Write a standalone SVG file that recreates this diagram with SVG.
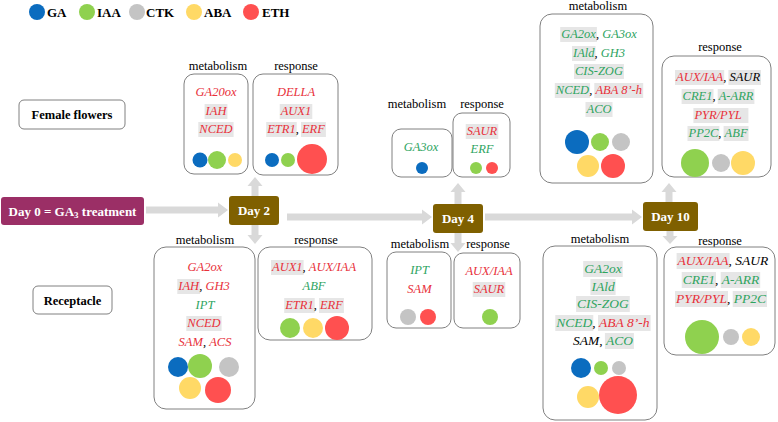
<svg xmlns="http://www.w3.org/2000/svg" width="778" height="422" viewBox="0 0 778 422" font-family="'Liberation Serif', 'DejaVu Serif', serif">
<style>
svg, text, tspan { font-family: 'Liberation Serif', 'DejaVu Serif', 'Times New Roman', serif; }
.lbl{font-size:12.5px;fill:#000;text-anchor:middle;}
.g{font-size:12.5px;font-style:italic;}
.g2{font-size:13.5px;font-style:italic;}
.r{fill:#e8303a;}
.gr{fill:#2ea45f;}
.k{fill:#000;font-style:normal;}
.bk{fill:#000;}
.hl{fill:#e6e6e6;}
.box{fill:#fff;stroke:#808080;stroke-width:1;}
.day{fill:#7f6000;}
.dt{font-size:13px;font-weight:bold;fill:#fff;text-anchor:middle;}
.leg{font-size:13px;font-weight:bold;fill:#000;}
.c1{fill:#0b6cbf;}.c2{fill:#8fd14f;}.c3{fill:#c4c4c4;}.c4{fill:#ffd966;}.c5{fill:#ff5050;}
.arr{fill:#d9d9d9;}
</style>

<g id="legend">
<circle class="c1" cx="37" cy="12" r="8"/><text class="leg" x="47" y="17">GA</text>
<circle class="c2" cx="87" cy="12" r="8"/><text class="leg" x="97" y="17">IAA</text>
<circle class="c3" cx="137" cy="12" r="8"/><text class="leg" x="146" y="17">CTK</text>
<circle class="c4" cx="194" cy="12" r="8"/><text class="leg" x="204" y="17">ABA</text>
<circle class="c5" cx="251" cy="12" r="8"/><text class="leg" x="262" y="17">ETH</text>
</g>

<g id="connectors">
<path class="arr" d="M146,206.5 H218 V202.5 L228,210 L218,217.5 V213.5 H146 Z"/>
<path class="arr" d="M287,213.5 H422 V209.5 L432,217 L422,224.5 V220.5 H287 Z"/>
<path class="arr" d="M485,213.5 H632 V209.5 L642,217 L632,224.5 V220.5 H485 Z"/>
<path class="arr" d="M251.5,196 V186 H247.5 L255,177 L262.5,186 H258.5 V196 Z"/>
<path class="arr" d="M251.5,225 V235 H247.5 L255,244 L262.5,235 H258.5 V225 Z"/>
<path class="arr" d="M454.5,204 V192 H450.5 L458,183 L465.5,192 H461.5 V204 Z"/>
<path class="arr" d="M454.5,233 V243 H450.5 L458,252 L465.5,243 H461.5 V233 Z"/>
<path class="arr" d="M665.5,202 V192 H661.5 L669,183 L676.5,192 H672.5 V202 Z"/>
<path class="arr" d="M666.5,231 V236 H662.5 L670,244 L677.5,236 H673.5 V231 Z"/>
</g>

<g id="female-flowers">
<rect class="box" x="19" y="100" width="106" height="29" rx="5"/>
<text x="72" y="119" font-size="12.5" font-weight="bold" text-anchor="middle" fill="#000">Female flowers</text>
</g>
<g id="receptacle">
<rect class="box" x="33" y="286" width="79" height="28" rx="5"/>
<text x="72.5" y="305" font-size="12.5" font-weight="bold" text-anchor="middle" fill="#000">Receptacle</text>
</g>

<g id="day0">
<rect x="1" y="197" width="143" height="28" rx="3" fill="#9b2f66"/>
<text class="dt" x="72.5" y="215.5">Day 0 = GA<tspan font-size="9" dy="2">3</tspan><tspan dy="-2"> treatment</tspan></text>
</g>
<g id="day2">
<rect class="day" x="229" y="196" width="50" height="29" rx="3"/>
<text class="dt" x="254" y="215">Day 2</text>
</g>
<g id="day4">
<rect class="day" x="433" y="204" width="50" height="29" rx="3"/>
<text class="dt" x="458" y="223">Day 4</text>
</g>
<g id="day10">
<rect class="day" x="643" y="202" width="55" height="29" rx="3"/>
<text class="dt" x="670.5" y="221">Day 10</text>
</g>

<g id="d2-ff-metabolism">
<text class="lbl" x="218" y="70">metabolism</text>
<rect class="box" x="184" y="74" width="64" height="100" rx="10"/>
<rect class="hl" x="204.6" y="104" width="22.8" height="15"/>
<rect class="hl" x="198.3" y="122" width="35.3" height="15"/>
<text class="g r" x="195.5" y="96">GA20ox</text>
<text class="g r" x="205.6" y="115">IAH</text>
<text class="g r" x="199.3" y="133">NCED</text>
<circle class="c1" cx="200" cy="160" r="7.5"/>
<circle class="c2" cx="217" cy="160" r="9"/>
<circle class="c4" cx="235" cy="160" r="7"/>
</g>

<g id="d2-ff-response">
<text class="lbl" x="296" y="70">response</text>
<rect class="box" x="253" y="74" width="85" height="101" rx="10"/>
<rect class="hl" x="279.7" y="104" width="32.6" height="15"/>
<rect class="hl" x="266.2" y="122" width="30.5" height="15"/>
<rect class="hl" x="301" y="122" width="24.9" height="15"/>
<text class="g r" x="276.9" y="96">DELLA</text>
<text class="g r" x="280.7" y="115">AUX1</text>
<text class="g r" x="267.2" y="133">ETR1<tspan class="k">, </tspan>ERF</text>
<circle class="c1" cx="272" cy="160" r="7"/>
<circle class="c2" cx="288" cy="160" r="7"/>
<circle class="c5" cx="312" cy="159" r="15"/>
</g>

<g id="d4-ff-metabolism">
<text class="lbl" x="417" y="108">metabolism</text>
<rect class="box" x="392" y="129" width="60" height="48" rx="9"/>
<text class="g gr" x="421" y="151" text-anchor="middle">GA3ox</text>
<circle class="c1" cx="422" cy="168" r="6"/>
</g>
<g id="d4-ff-response">
<text class="lbl" x="482" y="108">response</text>
<rect class="box" x="453" y="113" width="57" height="64" rx="9"/>
<rect class="hl" x="465.7" y="124" width="32.6" height="15"/>
<text class="g r" x="466.7" y="135">SAUR</text>
<text class="g gr" x="482" y="153" text-anchor="middle">ERF</text>
<circle class="c2" cx="476" cy="168" r="6"/>
<circle class="c5" cx="492" cy="168" r="6"/>
</g>

<g id="d10-ff-metabolism">
<text class="lbl" x="598" y="10">metabolism</text>
<rect class="box" x="540" y="14" width="113" height="169" rx="12"/>
<rect class="hl" x="560.2" y="27" width="36.7" height="15"/>
<rect class="hl" x="572" y="46" width="23.5" height="15"/>
<rect class="hl" x="574" y="64" width="49.9" height="15"/>
<rect class="hl" x="554.8" y="83" width="35.3" height="15"/>
<rect class="hl" x="594.3" y="83" width="48.9" height="15"/>
<rect class="hl" x="585.5" y="102" width="27" height="15"/>
<text class="g gr" x="561.2" y="38">GA2ox<tspan class="k">, </tspan>GA3ox</text>
<text class="g gr" x="573" y="57">IAld<tspan class="k">, </tspan>GH3</text>
<text class="g gr" x="575" y="75">CIS-ZOG</text>
<text class="g gr" x="555.8" y="94">NCED<tspan class="k">, </tspan><tspan class="r">ABA 8’-h</tspan></text>
<text class="g gr" x="586.5" y="113">ACO</text>
<circle class="c1" cx="577" cy="142" r="12"/>
<circle class="c2" cx="600" cy="142" r="9"/>
<circle class="c3" cx="621" cy="142" r="9"/>
<circle class="c4" cx="588" cy="166" r="11"/>
<circle class="c5" cx="613" cy="166" r="12"/>
</g>
<g id="d10-ff-response">
<text class="lbl" x="720" y="51">response</text>
<rect class="box" x="662" y="56" width="109" height="121" rx="12"/>
<rect class="hl" x="675" y="70" width="49.2" height="15"/>
<rect class="hl" x="728.4" y="70" width="32.6" height="15"/>
<rect class="hl" x="681.6" y="89" width="31.9" height="15"/>
<rect class="hl" x="717.7" y="89" width="36.7" height="15"/>
<rect class="hl" x="693.4" y="108" width="55" height="15"/>
<rect class="hl" x="687.5" y="126" width="31.9" height="15"/>
<rect class="hl" x="723.6" y="126" width="24.9" height="15"/>
<text class="g r" x="676" y="81">AUX/IAA<tspan class="k">, </tspan><tspan class="bk">SAUR</tspan></text>
<text class="g gr" x="682.6" y="100">CRE1<tspan class="k">, </tspan>A-ARR</text>
<text class="g r" x="694.4" y="119">PYR/PYL</text>
<text class="g gr" x="688.5" y="137">PP2C<tspan class="k">, </tspan>ABF</text>
<circle class="c2" cx="695" cy="163" r="14"/>
<circle class="c3" cx="721" cy="163" r="9"/>
<circle class="c4" cx="743" cy="163" r="12"/>
</g>

<g id="d2-rc-metabolism">
<text class="lbl" x="205" y="244">metabolism</text>
<rect class="box" x="154" y="247" width="101" height="162" rx="12"/>
<rect class="hl" x="177.3" y="279" width="22.8" height="15"/>
<rect class="hl" x="186.3" y="316" width="35.3" height="15"/>
<text class="g r" x="187.6" y="271">GA2ox</text>
<text class="g r" x="178.3" y="290">IAH<tspan class="k">, </tspan>GH3</text>
<text class="g gr" x="195.6" y="309">IPT</text>
<text class="g r" x="187.3" y="327">NCED</text>
<text class="g r" x="178.6" y="346">SAM<tspan class="k">, </tspan>ACS</text>
<circle class="c1" cx="178" cy="367" r="10"/>
<circle class="c2" cx="200" cy="366" r="12"/>
<circle class="c3" cx="229" cy="367" r="10"/>
<circle class="c4" cx="190" cy="388" r="11"/>
<circle class="c5" cx="218" cy="390" r="13"/>
</g>
<g id="d2-rc-response">
<text class="lbl" x="316" y="244">response</text>
<rect class="box" x="258" y="247" width="114" height="93" rx="12"/>
<rect class="hl" x="271" y="260" width="32.6" height="15"/>
<rect class="hl" x="284.2" y="298" width="30.5" height="15"/>
<rect class="hl" x="319" y="298" width="24.9" height="15"/>
<text class="g r" x="272" y="271">AUX1<tspan class="k">, </tspan>AUX/IAA</text>
<text class="g gr" x="302.5" y="290">ABF</text>
<text class="g r" x="285.2" y="309">ETR1<tspan class="k">, </tspan>ERF</text>
<circle class="c2" cx="290" cy="328" r="10"/>
<circle class="c4" cx="313" cy="328" r="10"/>
<circle class="c5" cx="337" cy="328" r="12"/>
</g>

<g id="d4-rc-metabolism">
<text class="lbl" x="420" y="248">metabolism</text>
<rect class="box" x="387" y="252" width="64" height="76" rx="9"/>
<text class="g gr" x="419.5" y="274" text-anchor="middle">IPT</text>
<text class="g r" x="419.5" y="293" text-anchor="middle">SAM</text>
<circle class="c3" cx="408" cy="317" r="8"/>
<circle class="c5" cx="428" cy="317" r="8"/>
</g>
<g id="d4-rc-response">
<text class="lbl" x="488" y="248">response</text>
<rect class="box" x="454" y="253" width="66" height="75" rx="9"/>
<rect class="hl" x="472.7" y="282" width="32.6" height="15"/>
<text class="g r" x="489" y="275" text-anchor="middle">AUX/IAA</text>
<text class="g r" x="473.7" y="293">SAUR</text>
<circle class="c2" cx="490" cy="317" r="8"/>
</g>

<g id="d10-rc-metabolism">
<text class="lbl" x="600" y="243">metabolism</text>
<rect class="box" x="543" y="246" width="114" height="174" rx="12"/>
<rect class="hl" x="583.2" y="261" width="39.5" height="16"/>
<rect class="hl" x="590.4" y="279" width="25.2" height="16"/>
<rect class="hl" x="576.1" y="296" width="53.7" height="16"/>
<rect class="hl" x="555.3" y="315" width="38" height="16"/>
<rect class="hl" x="598" y="315" width="52.6" height="16"/>
<rect class="hl" x="604.9" y="333" width="29" height="16"/>
<text class="g2 gr" x="584.2" y="273">GA2ox</text>
<text class="g2 gr" x="591.4" y="291">IAld</text>
<text class="g2 gr" x="577.1" y="308">CIS-ZOG</text>
<text class="g2 gr" x="556.3" y="327">NCED<tspan class="k">, </tspan><tspan class="r">ABA 8’-h</tspan></text>
<text class="g2 bk" x="573" y="345">SAM<tspan class="k">, </tspan><tspan class="gr">ACO</tspan></text>
<circle class="c1" cx="581" cy="368" r="10"/>
<circle class="c2" cx="601" cy="368" r="7"/>
<circle class="c3" cx="619" cy="368" r="7"/>
<circle class="c4" cx="588" cy="397" r="11"/>
<circle class="c5" cx="618" cy="395" r="19"/>
</g>
<g id="d10-rc-response">
<text class="lbl" x="720" y="245">response</text>
<rect class="box" x="664" y="247" width="111" height="108" rx="12"/>
<rect class="hl" x="676.6" y="253" width="53" height="16"/>
<rect class="hl" x="681.7" y="272" width="34.3" height="16"/>
<rect class="hl" x="720.7" y="272" width="39.5" height="16"/>
<rect class="hl" x="675" y="291" width="53" height="16"/>
<rect class="hl" x="732.7" y="291" width="34.3" height="16"/>
<text class="g2 r" x="677.6" y="265">AUX/IAA<tspan class="k">, </tspan><tspan class="bk">SAUR</tspan></text>
<text class="g2 gr" x="682.7" y="284">CRE1<tspan class="k">, </tspan>A-ARR</text>
<text class="g2 r" x="676" y="303">PYR/PYL<tspan class="k">, </tspan><tspan class="gr">PP2C</tspan></text>
<circle class="c2" cx="702" cy="337" r="17"/>
<circle class="c3" cx="731" cy="337" r="8"/>
<circle class="c4" cx="751" cy="337" r="9"/>
</g>
</svg>
